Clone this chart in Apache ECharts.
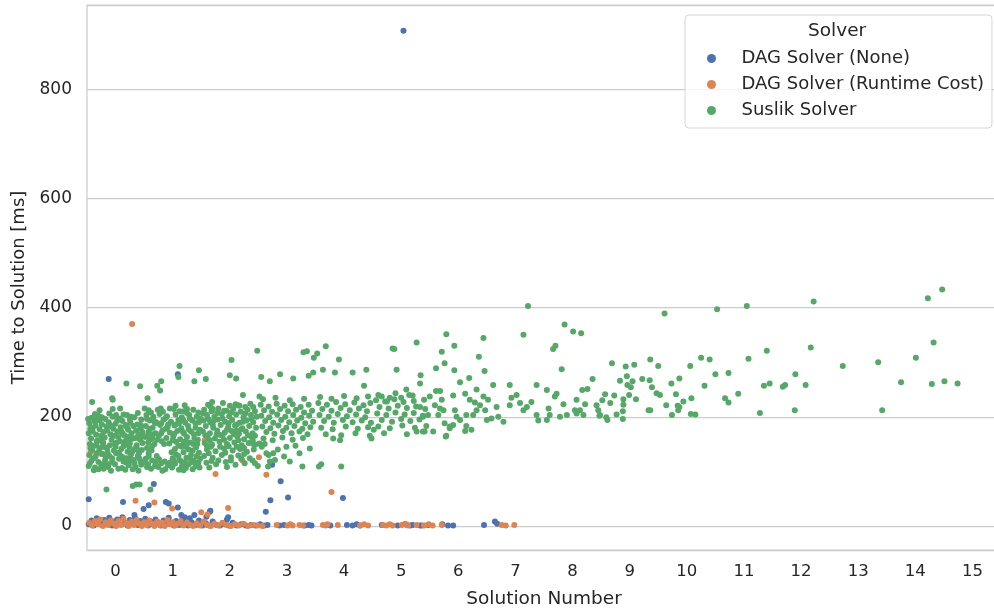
<!DOCTYPE html>
<html>
<head>
<meta charset="utf-8">
<script src="https://cdn.jsdelivr.net/npm/echarts@6/dist/echarts.min.js"></script>
<style>
  html, body { margin: 0; padding: 0; background: #fff; }
  #chart { width: 994px; height: 612px; }
</style>
</head>
<body>
<div id="chart"></div>
<script>
// tick labels of the categorical x axis
const solutionNumbers = ['0', '1', '2', '3', '4', '5', '6', '7', '8', '9', '10', '11', '12', '13', '14', '15'];
const solverNames = ['DAG Solver (None)', 'DAG Solver (Runtime Cost)', 'Suslik Solver'];

// [jittered solution number, time in ms]
const dagNone = [
  [-0.47,3],[-0.42,10],[-0.38,1],[-0.33,14],[-0.29,6],[-0.24,2],[-0.20,11],[-0.15,4],[-0.11,15],[-0.06,1],
  [-0.02,8],[0.03,12],[0.07,3],[0.12,16],[0.16,6],[0.21,1],[0.25,11],[0.30,4],[0.34,14],[0.39,2],
  [0.43,9],[0.48,5],[0.52,13],[0.57,1],[0.61,8],[0.66,3],[0.70,12],[0.75,5],[0.79,1],[0.84,10],
  [0.88,3],[0.93,15],[0.97,6],[1.02,1],[1.06,9],[1.11,2],[1.17,12],[1.22,4],[1.27,1],[1.33,7],
  [1.40,2],[1.46,10],[1.52,1],[1.58,5],[1.64,1],[1.70,8],[1.77,2],[1.83,1],[1.90,4],[1.98,1],
  [2.05,6],[2.12,1],[2.20,3],[2.28,1],[2.37,2],[2.45,1],[2.53,3],[2.60,1],[2.66,2],
  [2.87,1],[2.95,2],[3.31,1],[3.38,2],[3.43,1],[3.76,1],[4.05,2],[4.15,1],[4.22,3],[4.28,1],
  [4.66,2],[4.94,1],[5.10,2],[5.16,1],[5.20,2],[5.33,1],[5.36,1],[5.47,2],[5.72,3],[5.82,1],
  [5.91,1],[6.45,2],[6.64,8],[6.68,4],
  [-0.12,269],[1.09,278],[0.27,121],[-0.47,49],[0.13,44],[0.67,77],[0.58,38],[0.49,31],[0.88,44],[0.93,41],
  [1.09,34],[1.15,20],[1.21,16],[1.30,14],[1.38,20],[1.66,28],[1.59,17],[1.97,16],[0.33,20],[1.65,26],
  [1.95,12],[2.63,26],[2.71,47],[2.89,82],[3.02,52],[2.74,112],[3.98,51],[5.04,907]
];

const dagRuntime = [
  [-0.46,6],[-0.41,1],[-0.36,9],[-0.31,3],[-0.27,12],[-0.22,0],[-0.17,7],[-0.13,2],[-0.08,10],[-0.03,4],
  [0.01,0],[0.05,9],[0.10,2],[0.14,13],[0.19,5],[0.23,0],[0.28,8],[0.32,2],[0.37,11],[0.41,4],
  [0.46,0],[0.50,7],[0.55,2],[0.59,10],[0.64,4],[0.68,0],[0.73,8],[0.77,2],[0.82,6],[0.86,0],
  [0.91,11],[0.95,3],[1.00,7],[1.04,1],[1.09,4],[1.14,9],[1.19,1],[1.25,6],[1.31,2],[1.36,0],
  [1.42,5],[1.48,1],[1.54,8],[1.60,2],[1.67,0],[1.73,4],[1.80,1],[1.87,6],[1.94,2],[2.02,0],
  [2.09,3],[2.16,1],[2.24,4],[2.32,0],[2.40,2],[2.49,1],[2.57,0],
  [2.82,2],[3.01,1],[3.06,3],[3.10,1],[3.22,2],[3.28,1],[3.63,2],[3.68,1],[3.71,3],[3.89,2],
  [4.28,1],[4.35,3],[4.42,1],[4.68,2],[4.74,1],[4.80,3],[4.85,1],[5.01,2],[5.07,4],[5.12,1],
  [5.27,2],[5.40,1],[5.48,3],[5.55,1],[5.71,2],[6.76,2],[6.83,1],[6.98,2],
  [0.29,370],[-0.43,136],[-0.25,132],[-0.22,154],[0.42,160],[-0.18,118],[1.56,157],[1.75,95],[2.22,120],[2.51,126],
  [2.64,94],[3.78,62],[0.35,46],[0.68,43],[0.99,32],[1.50,25],[1.61,21],[1.97,33]
];

const suslik = [
  // solution 0, dense band
  [-0.42,198],[-0.30,202],[-0.18,196],[-0.05,200],[0.07,197],[0.20,203],[0.33,199],[0.45,195],
  [-0.46,188],[-0.36,191],[-0.24,186],[-0.12,190],[0.00,187],[0.12,192],[0.26,189],[0.38,186],
  [-0.40,180],[-0.28,177],[-0.16,182],[-0.04,178],[0.09,181],[0.22,176],[0.31,183],[0.44,179],
  [-0.47,170],[-0.34,167],[-0.21,172],[-0.09,168],[0.03,173],[0.15,166],[0.28,170],[0.40,168],
  [-0.43,160],[-0.31,157],[-0.19,162],[-0.07,158],[0.05,163],[0.18,156],[0.30,160],[0.43,158],
  [-0.45,150],[-0.33,147],[-0.22,152],[-0.10,148],[0.02,153],[0.14,146],[0.25,151],[0.37,148],[0.47,152],
  [-0.41,140],[-0.29,137],[-0.15,142],[-0.03,138],[0.10,141],[0.21,136],[0.34,142],[0.46,139],
  [-0.46,130],[-0.35,127],[-0.23,132],[-0.11,128],[0.01,133],[0.13,126],[0.27,131],[0.39,128],
  [-0.42,120],[-0.30,117],[-0.18,122],[-0.06,118],[0.06,123],[0.19,116],[0.32,121],[0.44,118],
  [-0.47,110],[-0.36,107],[-0.25,112],[-0.13,108],[-0.01,113],[0.11,106],[0.23,111],[0.35,108],[0.45,112],
  [-0.38,102],[-0.08,101],[0.17,103],[0.40,101],
  [-0.37,195],[-0.25,165],[-0.14,135],[0.08,155],[0.24,145],[-0.20,115],[0.36,175],[-0.44,178],
  [0.29,120],[0.00,145],[-0.33,155],[0.18,185],[-0.06,124],[0.41,133],[0.12,170],[-0.27,143],
  [-0.36,205],[-0.11,206],[0.14,204],[0.39,207],[-0.40,173],[-0.15,175],[0.10,174],[0.35,161],
  [-0.44,143],[-0.20,145],[0.06,134],[0.30,137],[-0.38,124],[-0.12,113],[0.14,118],[0.42,123],
  [-0.28,193],[0.03,193],[0.25,195],[-0.30,104],[0.05,105],[0.30,104],[-0.02,165],[0.22,163],
  [-0.33,133],[0.16,150],[-0.09,184],[0.44,185],
  [-0.48,196],[-0.24,199],[0.01,203],[0.27,200],[-0.35,184],[-0.07,182],[0.20,181],[0.47,172],
  [-0.26,156],[-0.01,150],[0.24,155],[0.46,164],[-0.40,147],[-0.17,129],[0.09,128],[0.33,115],
  [-0.45,115],[-0.21,105],[0.20,124],[0.38,140],
  // solution 1, dense band
  [0.58,212],[0.83,209],[1.02,214],[1.19,210],[1.36,213],
  [0.54,203],[0.66,200],[0.77,205],[0.90,201],[1.05,204],[1.16,199],[1.29,203],[1.42,200],
  [0.60,193],[0.71,190],[0.84,195],[0.97,191],[1.10,194],[1.22,189],[1.34,193],[1.46,190],
  [0.53,183],[0.65,180],[0.78,185],[0.91,181],[1.03,184],[1.15,179],[1.27,183],[1.40,180],
  [0.58,173],[0.70,170],[0.82,175],[0.95,171],[1.08,174],[1.20,169],[1.32,173],[1.45,170],
  [0.52,163],[0.64,160],[0.76,165],[0.89,161],[1.01,164],[1.13,159],[1.25,163],[1.38,160],
  [0.57,153],[0.68,150],[0.81,155],[0.94,151],[1.06,154],[1.18,149],[1.30,153],[1.43,150],
  [0.55,143],[1.04,141],[1.16,145],[1.28,140],[1.41,144],
  [0.58,133],[1.06,131],[1.19,135],[1.32,130],[1.46,134],
  [0.53,123],[0.64,120],[1.00,124],[1.12,121],[1.24,125],[1.37,120],
  [0.57,113],[0.69,110],[0.80,115],[0.92,111],[1.04,114],[1.16,109],[1.28,113],[1.40,110],
  [0.62,105],[0.75,108],[0.87,104],[0.99,107],[1.11,103],[1.23,106],[1.35,104],[1.47,107],
  [0.72,128],[0.63,138],[0.98,135],[0.86,118],[0.73,158],[1.11,188],[0.88,198],[1.37,168],
  [0.60,178],[1.24,145],[1.48,123],[1.10,128],[1.44,158],[0.69,188],
  [0.62,208],[0.95,215],[1.25,207],[0.55,196],[0.80,188],[1.05,186],[1.30,197],[0.66,168],
  [0.88,178],[1.18,172],[1.40,188],[0.60,158],[0.85,150],[1.00,157],[1.22,155],[1.35,138],
  [0.58,128],[1.15,118],[1.30,124],[0.70,117],[0.95,116],[1.45,116],[0.55,108],[0.82,101],
  [1.19,102],[1.42,128],[1.48,176],
  [0.51,215],[0.74,213],[1.12,210],[1.45,208],[0.66,194],[0.92,186],[1.19,193],[1.48,197],
  [0.57,168],[0.80,170],[1.03,169],[1.28,177],[0.64,146],[1.10,147],[1.36,150],[1.22,116],
  [1.02,120],[0.76,122],[0.51,117],[1.33,117],
  // solution 2, dense band
  [1.62,222],[1.88,225],[2.14,221],[2.36,224],
  [1.55,213],[1.68,210],[1.80,215],[1.94,211],[2.06,214],[2.19,209],[2.31,213],[2.44,210],
  [1.60,203],[1.73,200],[1.86,205],[1.99,201],[2.11,204],[2.24,199],[2.37,203],[2.47,200],
  [1.54,193],[1.66,190],[1.79,195],[1.92,191],[2.04,194],[2.17,189],[2.29,193],[2.41,190],
  [1.58,183],[1.71,180],[1.84,185],[1.97,181],[2.09,184],[2.22,179],[2.34,183],[2.46,180],
  [1.53,173],[1.65,170],[1.78,175],[1.91,171],[2.03,174],[2.16,169],[2.28,173],[2.40,170],
  [1.61,163],[1.74,160],[1.87,165],[2.00,161],[2.13,164],[2.25,159],[2.38,163],
  [1.56,152],[1.69,149],[1.82,154],[1.95,150],[2.08,153],[2.21,148],[2.33,152],[2.45,149],
  [1.60,140],[1.75,137],[1.90,142],[2.05,138],[2.18,141],[2.30,136],
  [1.55,128],[1.70,125],[1.86,130],[2.02,126],[2.15,129],[2.35,124],
  [1.59,116],[1.76,113],[1.93,117],[2.10,112],[2.26,115],
  [1.66,219],[2.00,220],[2.27,218],[1.83,145],[2.42,140],[1.64,107],[1.95,108],
  [1.53,206],[1.78,207],[2.02,208],[2.27,206],[1.62,196],[1.87,197],[2.12,186],[2.38,196],
  [1.70,186],[1.95,176],[2.20,177],[1.57,166],[1.82,167],[2.07,168],[2.32,166],[1.65,157],
  [1.90,158],[2.15,157],[2.40,157],[1.67,145],[1.98,146],[2.25,143],[1.63,133],[1.92,134],
  [2.25,132],[1.68,119],[2.02,120],[2.40,120],
  [1.72,193],[1.98,188],[2.23,191],[1.77,168],[2.12,175],[2.44,165],[1.60,147],[2.12,145],
  [1.80,120],[2.20,123],
  // solution 3, band
  [2.58,232],[2.80,235],[3.05,230],[3.30,233],
  [2.54,222],[2.68,219],[2.82,224],[2.96,220],[3.10,223],[3.24,218],[3.38,222],
  [2.60,212],[2.74,209],[2.88,214],[3.02,210],[3.16,213],[3.30,208],[3.44,211],
  [2.55,202],[2.69,199],[2.83,204],[2.97,200],[3.11,203],[3.25,198],[3.39,202],
  [2.62,192],[2.76,189],[2.90,194],[3.04,190],[3.18,193],[3.32,188],[3.46,191],
  [2.57,182],[2.71,179],[2.85,184],[2.99,180],[3.13,183],[3.27,178],[3.41,181],
  [2.64,172],[2.78,169],[2.93,174],[3.08,170],[3.22,173],[3.36,168],
  [2.59,160],[2.75,157],[2.92,162],[3.10,158],[3.28,161],
  [2.56,145],[2.84,140],[3.15,147],[3.40,142],
  [2.68,130],[2.95,127],[3.22,133],
  // solution 4, band
  [3.58,236],[3.78,233],[4.00,238],[4.22,234],[4.42,237],
  [3.55,225],[3.70,222],[3.86,227],[4.02,223],[4.18,226],[4.34,221],[4.46,225],
  [3.62,214],[3.78,211],[3.94,216],[4.10,212],[4.26,215],[4.40,210],
  [3.57,203],[3.73,200],[3.89,205],[4.05,201],[4.21,204],[4.37,199],
  [3.65,192],[3.82,189],[3.98,194],[4.15,190],[4.31,193],[4.47,189],
  [3.60,180],[3.80,177],[4.03,182],[4.24,178],[4.42,181],
  [3.68,168],[3.95,166],[4.20,170],
  // solution 5, band
  [4.60,240],[4.90,243],[5.20,239],
  [4.56,230],[4.72,228],[4.88,232],[5.04,227],[5.22,229],[5.40,231],
  [4.62,218],[4.78,215],[4.94,220],[5.10,216],[5.26,219],[5.42,214],
  [4.58,206],[4.74,203],[4.90,208],[5.06,204],[5.22,207],[5.38,202],
  [4.66,194],[4.84,191],[5.00,196],[5.16,192],[5.32,195],
  [4.60,182],[4.80,179],[5.02,184],[5.24,180],[5.44,183],
  [4.70,170],[5.10,168],
  // sparse points, solutions 0 - 5
  [0.19,261],[0.43,256],[0.73,257],[0.80,265],[0.78,248],[1.12,293],[1.10,273],[1.46,285],[1.38,265],[1.58,269],
  [2.03,304],[2.00,276],[2.11,270],[2.48,321],
  [-0.41,227],[-0.06,234],[-0.05,231],[-0.28,212],[-0.05,214],[0.08,215],[0.56,234],[0.79,215],[1.05,220],[1.21,221],
  [1.25,214],[1.69,227],[1.70,214],[1.90,211],[2.10,223],[2.17,220],[2.23,240],[2.41,218],[2.52,237],
  [-0.16,67],[0.30,73],[0.36,76],[0.42,76],[0.61,67],
  [3.29,318],[3.35,320],[3.53,316],[3.47,308],[3.68,329],[3.91,305],[4.85,325],[4.88,324],[5.27,336],
  [2.55,273],[2.70,265],[2.88,278],[3.11,270],[3.38,275],[3.46,281],[3.63,286],[3.84,281],[4.15,281],[4.39,286],
  [4.92,286],[5.34,276],[5.33,261],[4.35,257],[5.09,250],[4.80,235],[4.75,228],[4.66,237],
  [2.41,150],[2.52,151],[2.61,150],[2.64,133],[2.76,133],[2.44,115],[2.49,110],[2.70,118],[2.79,121],[2.67,109],
  [3.27,109],[3.56,109],[3.60,113],[3.95,109],[3.05,118],[2.99,145],
  [3.81,160],[3.93,157],[4.48,160],[4.52,176],[5.27,173],[5.38,173],[4.45,165],[5.00,235],[5.14,240],
  // solutions 6 - 8
  [5.79,351],[5.93,330],[6.44,344],[5.71,319],[5.76,298],[5.61,289],[5.93,285],[6.03,263],[6.19,271],[6.36,310],
  [6.46,284],[6.32,250],[6.12,242],[5.91,239],[5.68,247],[5.61,247],[5.78,164],[5.85,182],[6.14,183],[6.23,176],
  [7.22,403],[7.86,369],[8.01,356],[8.15,353],[7.66,324],[7.70,330],[7.14,350],[7.81,287],[8.35,269],
  [6.61,258],[6.90,258],[7.37,258],[7.55,249],[7.72,242],[7.69,237],[8.17,249],[8.26,251],[7.84,223],[8.07,231],[8.22,223],
  [5.33,218],[5.38,200],[5.41,173],[5.56,173],[5.50,237],[5.59,221],[5.68,215],[5.76,188],[5.79,165],[5.85,179],
  [5.91,185],[6.03,194],[6.12,174],[6.14,203],[6.26,203],[6.32,212],[6.38,221],[6.44,237],[6.50,194],[6.58,197],
  [6.70,200],[6.79,191],[6.67,218],[6.90,221],[7.02,240],[7.08,225],[7.14,212],[7.20,218],[7.37,203],[7.40,193],
  [7.55,194],[7.58,215],[7.60,203],[7.78,200],[7.90,203],[8.07,206],[8.13,212],[8.19,203],[8.42,221],[8.48,203],
  [5.47,203],[5.65,203],[5.71,231],[5.74,212],[5.94,212],[5.97,200],[6.20,231],[6.29,226],[6.47,212],[6.52,231],
  [6.93,235],[7.28,227],[8.04,212],
  // solutions 9 - 11
  [9.61,389],[10.53,397],[11.05,403],[11.40,321],[11.08,306],[10.25,308],[10.40,305],[10.06,293],[10.50,278],[10.73,280],
  [10.31,257],[9.36,305],[9.50,293],[8.93,292],[9.08,295],[8.69,298],
  [8.83,266],[8.95,274],[9.05,265],[8.96,258],[9.02,254],[9.22,269],[9.35,267],[9.39,254],[9.47,243],[9.53,240],
  [8.99,240],[9.11,232],[8.89,232],[8.89,222],[8.73,239],[8.57,241],[8.52,230],[8.66,225],[8.45,212],[8.47,202],
  [8.59,199],[8.61,194],[8.77,204],[8.88,210],[8.88,196],[9.33,212],[9.36,212],[9.64,221],[9.74,203],[9.73,261],
  [9.81,241],[9.84,220],[9.87,218],[9.85,212],[9.87,270],[9.94,228],[10.08,234],[10.07,205],[10.15,204],[10.67,234],
  [10.73,226],[10.90,242],[11.28,207],[11.35,257],[11.45,261],[11.68,255],[11.72,258],
  // solutions 12 - 15
  [12.22,411],[14.22,417],[14.47,433],[14.32,336],[12.17,327],[14.01,308],[13.35,300],[12.73,293],[11.90,278],[12.08,258],
  [13.75,263],[14.29,260],[14.51,265],[14.74,261],[11.89,212],[13.42,212]
];

const solverColors = ['#4c72b0', '#dd8452', '#55a868'];
const textColor = '#262626';
const gridColor = '#cccccc';

class StripChart {
  chartElement;
  chartObj;
  constructor(elementId, option) {
    this.chartElement = document.getElementById(elementId);
    this.init();
    this.render(option);
  }

  init() {
    this.chartObj = echarts.init(this.chartElement, null, { renderer: 'canvas' });
  }

  render(option) {
    this.chartObj.setOption(option);
  }
}

function stripSeries(name, data, color) {
  return {
    name: name,
    type: 'scatter',
    xAxisIndex: 1,
    data: data,
    symbolSize: 6,
    itemStyle: { color: color, opacity: 1 },
    emphasis: { disabled: true }
  };
}

const option = {
  animation: false,
  textStyle: { fontFamily: 'DejaVu Sans' },
  title: {
    text: 'Solver',
    left: 808,
    top: 22,
    padding: 0,
    textStyle: { fontSize: 18.5, fontWeight: 'normal', color: textColor, fontFamily: 'DejaVu Sans' }
  },
  // the plot runs a little past the right edge of the picture
  grid: {
    left: 87, top: 5, width: 914, bottom: 62,
    outerBoundsMode: 'none',
    show: true, borderColor: gridColor, borderWidth: 1.25
  },
  legend: {
    data: solverNames,
    orient: 'vertical',
    left: 685,
    top: 15,
    icon: 'circle',
    itemWidth: 50,
    itemHeight: 9,
    itemGap: 7,
    padding: [34, 8, 8, 22],
    backgroundColor: 'rgba(255,255,255,0.8)',
    borderColor: '#d6d6d6',
    borderWidth: 1,
    borderRadius: 4,
    textStyle: { fontSize: 18, color: textColor, lineHeight: 19 }
  },
  xAxis: [
    {
      type: 'category',
      data: solutionNumbers,
      boundaryGap: true,
      name: 'Solution Number',
      nameLocation: 'middle',
      nameGap: 40,
      nameTextStyle: { fontSize: 18.5, color: textColor },
      axisLine: { show: false },
      axisTick: { show: false },
      splitLine: { show: false },
      axisLabel: { fontSize: 16.5, color: textColor, margin: 13 }
    },
    { type: 'value', min: -0.5, max: 15.5, show: false }
  ],
  yAxis: {
    type: 'value',
    min: -44,
    max: 954,
    splitNumber: 5,
    name: 'Time to Solution [ms]',
    nameLocation: 'middle',
    nameGap: 56,
    nameTextStyle: { fontSize: 18, color: textColor, padding: [0, 20, 0, 0] },
    axisLine: { show: false },
    axisTick: { show: false },
    axisLabel: {
      fontSize: 17,
      color: textColor,
      margin: 15,
      formatter: (v) => (v % 200 === 0 ? String(v) : '')
    },
    splitLine: { lineStyle: { color: gridColor, width: 1.25 } }
  },
  series: [
    stripSeries(solverNames[0], dagNone, solverColors[0]),
    stripSeries(solverNames[1], dagRuntime, solverColors[1]),
    stripSeries(solverNames[2], suslik, solverColors[2])
  ]
};

new StripChart('chart', option);
</script>
</body>
</html>
